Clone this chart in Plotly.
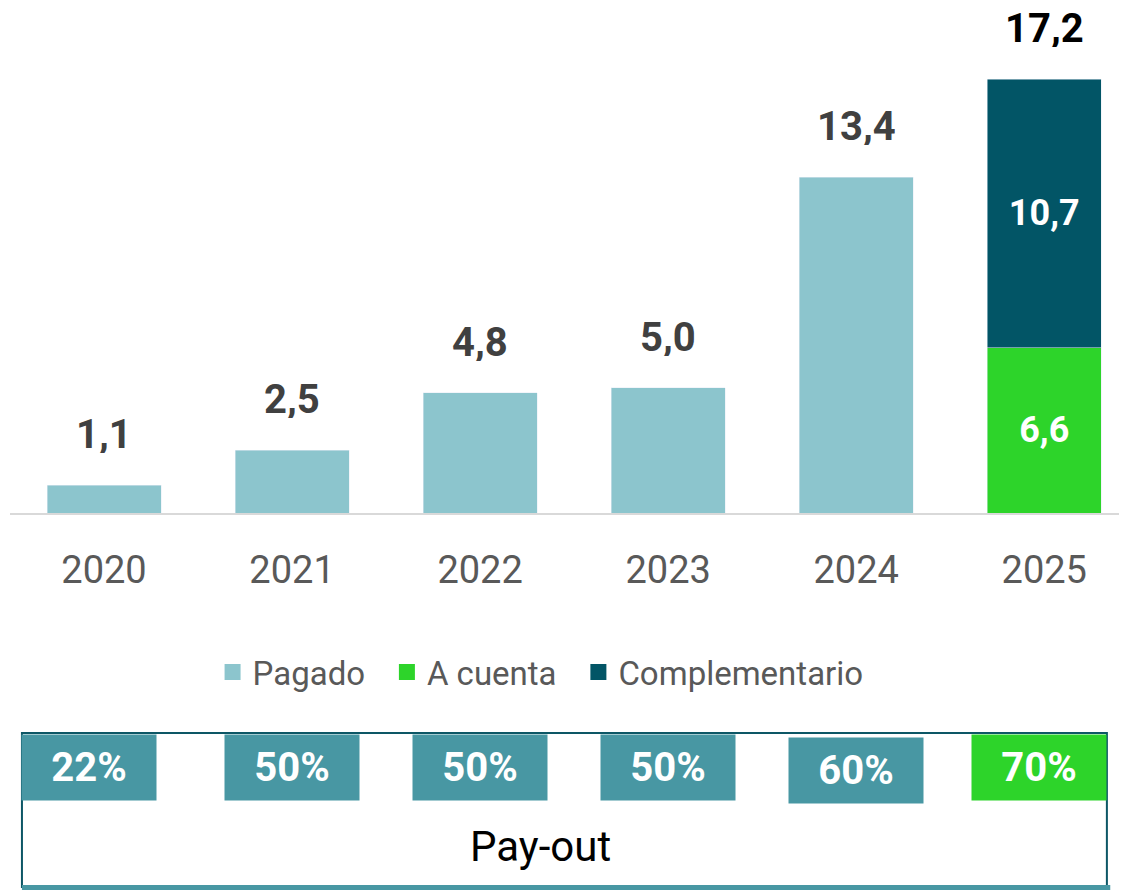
import plotly.graph_objects as go

years = ["2020", "2021", "2022", "2023", "2024", "2025"]
pagado = [1.1, 2.5, 4.8, 5.0, 13.4, None]
a_cuenta = [None, None, None, None, None, 6.6]
complementario = [None, None, None, None, None, 10.7]
total_labels = ["1,1", "2,5", "4,8", "5,0", "13,4", "17,2"]
payout = ["22%", "50%", "50%", "50%", "60%", "70%"]

C_PAGADO = "#8cc5cd"
C_CUENTA = "#2dd42a"
C_COMPL = "#025566"
C_BOX = "#4897a3"
FONT = "Roboto"


def fmt(v):
    return "" if v is None else f"{v:.1f}".replace(".", ",")


fig = go.Figure()
fig.add_trace(go.Bar(x=years, y=pagado, name="Pagado", marker_color=C_PAGADO, showlegend=False))
fig.add_trace(go.Bar(
    x=years, y=a_cuenta, name="A cuenta", marker_color=C_CUENTA, showlegend=False,
    text=[fmt(v) for v in a_cuenta], textposition="inside", insidetextanchor="middle",
    textfont=dict(family=FONT, size=36, color="white", weight="bold"),
))
fig.add_trace(go.Bar(
    x=years, y=complementario, name="Complementario", marker_color=C_COMPL, showlegend=False,
    text=[fmt(v) for v in complementario], textposition="inside", insidetextanchor="middle",
    textfont=dict(family=FONT, size=36, color="white", weight="bold"),
))

# legend entries with bigger square swatches (trailing spaces widen the gaps)
legend_items = [("Pagado\u2002", C_PAGADO), ("A cuenta\u2002", C_CUENTA), ("Complementario", C_COMPL)]
for name, color in legend_items:
    fig.add_trace(go.Scatter(
        x=[None], y=[None], mode="markers", name=name,
        marker=dict(symbol="square", size=17, color=color),
    ))

# total labels above the bars
for i, lab in enumerate(total_labels):
    t = sum(v[i] or 0 for v in (pagado, a_cuenta, complementario))
    fig.add_annotation(
        x=i, y=t, text=f"<b>{lab}</b>", showarrow=False,
        yanchor="middle", yshift=51, height=38,
        font=dict(family=FONT, size=40, color="#000000" if i == len(years) - 1 else "#404040"),
    )

# pay-out boxes
for i, p in enumerate(payout):
    color = C_CUENTA if i == len(years) - 1 else C_BOX
    fig.add_annotation(
        x=i, xref="x", y=-0.505 - (0.006 if i == 4 else 0), yref="paper", yanchor="middle",
        text=f"<b>{p}</b>", showarrow=False,
        width=134, height=65, bgcolor=color, borderpad=0,
        xshift=-15 if i == 0 else (-5 if i == 5 else 0),
        font=dict(family=FONT, size=40, color="white"),
    )

fig.add_shape(type="rect", xref="paper", yref="paper",
              x0=0.0107, x1=0.982, y0=-0.7435, y1=-0.4374,
              line=dict(color="#0d5766", width=2), layer="below")
fig.add_shape(type="line", xref="paper", yref="paper",
              x0=0.0107, x1=0.985, y0=-0.7445, y1=-0.7445,
              line=dict(color=C_BOX, width=5))
fig.add_annotation(x=0.4745, y=-0.664, xref="paper", yref="paper", yanchor="middle",
                   text="Pay-out", showarrow=False,
                   font=dict(family=FONT, size=42, color="#000000"))

fig.update_layout(
    barmode="stack",
    bargap=0.394,
    width=1119, height=883,
    margin=dict(l=2, r=0, t=2, b=378),
    plot_bgcolor="white", paper_bgcolor="white",
    showlegend=True,
    legend=dict(orientation="h", x=0.475, xanchor="center", y=-0.316, yanchor="middle",
                font=dict(family=FONT, size=33, color="#595959"),
                itemwidth=30, traceorder="normal"),
)
fig.update_xaxes(
    type="category", range=[-0.5, 5.44], showline=True, linecolor="#d9d9d9", linewidth=2,
    ticks="outside", ticklen=22, tickcolor="rgba(0,0,0,0)",
    tickfont=dict(family=FONT, size=38, color="#595959"), showgrid=False,
)
fig.update_yaxes(range=[0, 20.06], visible=False, showgrid=False)

fig.write_html("out.html")
